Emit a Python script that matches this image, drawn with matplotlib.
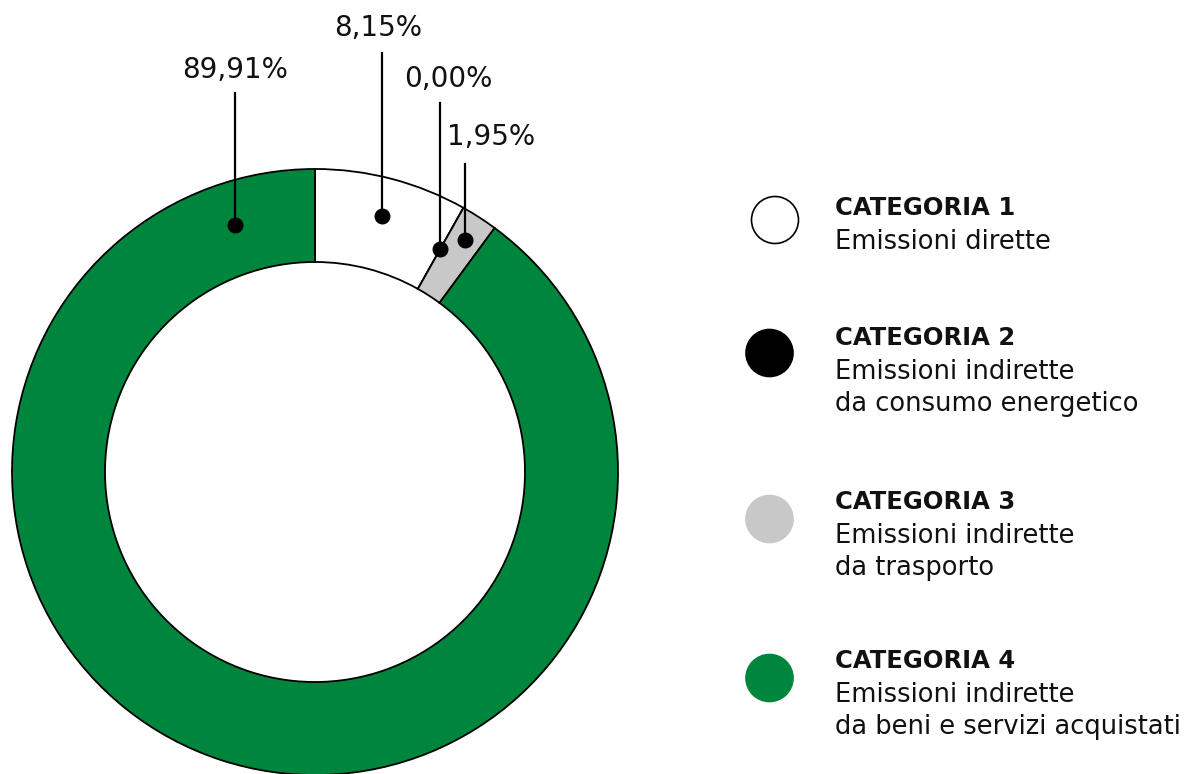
import numpy as np
import matplotlib
matplotlib.use("Agg")
import matplotlib.pyplot as plt
from matplotlib.patches import Circle

# data (percentages, clockwise from top)
values = [8.15, 0.00, 1.95, 89.91]
labels = ["8,15%", "0,00%", "1,95%", "89,91%"]
colors = ["#ffffff", "#000000", "#c8c8c8", "#00853c"]

legend_titles = ["CATEGORIA 1", "CATEGORIA 2", "CATEGORIA 3", "CATEGORIA 4"]
legend_texts = ["Emissioni dirette",
                "Emissioni indirette\nda consumo energetico",
                "Emissioni indirette\nda trasporto",
                "Emissioni indirette\nda beni e servizi acquistati"]

W, H = 1191, 774
fig = plt.figure(figsize=(W / 100, H / 100), dpi=100)
ax = fig.add_axes([0, 0, 1, 1])

cx, cy = 315, H - 472
r_out, r_in = 303, 210

wedges, _ = ax.pie(values, colors=colors, startangle=90, counterclock=False,
                   center=(cx, cy), radius=r_out,
                   wedgeprops=dict(width=r_out - r_in, edgecolor="black", linewidth=1.3))

# label placement: dot angle / radius, text position, line top (pixel coords)
cum = np.concatenate([[0], np.cumsum(values)])
mid_angles = 90 - 360 * (cum[:-1] + np.array(values) / 2) / sum(values)
dot_angles = [mid_angles[0], mid_angles[1], mid_angles[2], 108]
dot_radius = [265, 256, 276, 260]
text_pos = [(378, 28), (448, 79), (491, 137), (235, 70)]
line_top = [53, 103, 164, 93]

for lab, ang, rr, (tx, ty), lt in zip(labels, dot_angles, dot_radius, text_pos, line_top):
    a = np.deg2rad(ang)
    dx, dy = cx + rr * np.cos(a), cy + rr * np.sin(a)
    ax.plot([dx, dx], [dy, H - lt], color="black", lw=1.6, zorder=5)
    ax.scatter([dx], [dy], s=110, color="black", zorder=6)
    ax.text(tx, H - ty, lab, ha="center", va="center", fontsize=20,
            family="DejaVu Sans", color="#111111")

# legend
leg_circle_y = [220, 353, 519, 678]
leg_title_y = [208, 338, 502, 661]
for col, t, d, yc, yt in zip(colors, legend_titles, legend_texts, leg_circle_y, leg_title_y):
    xc = 775 if col == "#ffffff" else 769.5
    ax.add_patch(Circle((xc, H - yc), 23.5, facecolor=col,
                        edgecolor="black" if col == "#ffffff" else col, lw=1.2))
    ax.text(835, H - yt, t, ha="left", va="center", fontsize=17.5,
            fontweight="bold", family="DejaVu Sans", color="#111111")
    ax.text(835, H - yt - 21, d, ha="left", va="top", fontsize=18.5,
            family="DejaVu Sans", color="#111111", linespacing=1.3)

ax.set_xlim(0, W)
ax.set_ylim(0, H)
ax.set_aspect("equal")
ax.axis("off")

fig.savefig("out.png", dpi=100, facecolor="white")
